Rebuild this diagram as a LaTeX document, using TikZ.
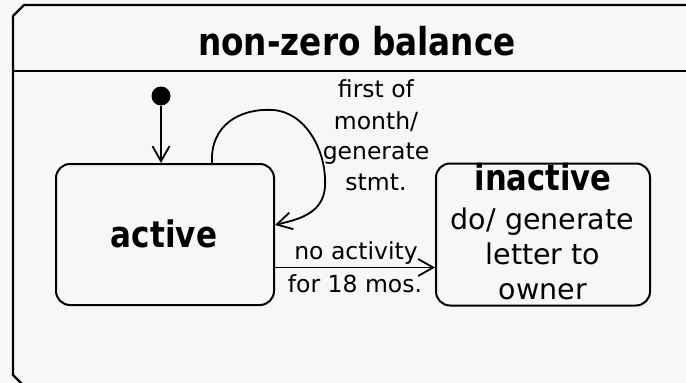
\documentclass[tikz,border=0pt]{standalone}
\usepackage{fontspec}
\setmainfont{DejaVu Sans}
\newfontfamily\headfont{DejaVu Sans}[FakeStretch=0.85]
\usetikzlibrary{arrows.meta}
\definecolor{paper}{HTML}{F7F7F7}
\begin{document}
\begin{tikzpicture}[x=1pt,y=-1pt,
  edge/.style={line width=1.8pt},
  arr/.style={edge,-{Straight Barb[length=15pt,width=17pt]}},
  statebox/.style={draw,line width=2pt,rounded corners=14pt,inner sep=0pt,fill=paper},
  boldtxt/.style={font=\headfont\bfseries\fontsize{36}{36}\selectfont,anchor=base,inner sep=0pt},
  bodytxt/.style={font=\fontsize{28.5}{28.5}\selectfont,anchor=base,inner sep=0pt},
  lbl/.style={font=\fontsize{23.5}{23.5}\selectfont,anchor=base,inner sep=0pt}]
\useasboundingbox (0,0) rectangle (686,383);
\fill[paper] (0,0) rectangle (686,383);
\clip (0,0) rectangle (686,383);

% composite state frame with its name compartment
\draw[line width=2.2pt] (700,5) -- (24,5) -- (13,16) -- (13,375) -- (24,386);
\draw[line width=2.2pt] (13,71) -- (700,71);
\node[boldtxt,font=\headfont\bfseries\fontsize{38.5}{38.5}\selectfont] (title) at (357,55) {non-zero balance};

% states
\node[statebox,minimum width=218pt,minimum height=141pt] (active) at (165,234.5) {};
\node[statebox,minimum width=214pt,minimum height=142pt] (inactive) at (543,234.5) {};

\node[boldtxt,font=\headfont\bfseries\fontsize{36.5}{36.5}\selectfont] (activename) at (164,247) {active};
\node[boldtxt] (inactivename) at (543,190) {inactive};
\node[bodytxt] (do1) at (542.5,229) {do/ generate};
\node[bodytxt] (do2) at (543,264) {letter to};
\node[bodytxt] (do3) at (543,299) {owner};

% initial pseudo-state
\node[circle,fill=black,inner sep=0pt,minimum width=17pt,minimum height=19pt] (init) at (161,96) {};
\draw[arr] (init.south) -- (init.south |- active.north);

% self transition on active
\coordinate (ls) at ([xshift=47pt]active.north);
\coordinate (le) at ([yshift=9.5pt]active.east);
\draw[arr] (ls) .. controls (210,125) and (240,108) .. (273,110)
  .. controls (305,112) and (327,150) .. (325,187)
  .. controls (323,215) and (295,220) .. (le);
\node[lbl] (l1) at (376,97) {first of};
\node[lbl] (l2) at (376,129) {month/};
\node[lbl] (l3) at (376,159) {generate};
\node[lbl] (l4) at (376,190) {stmt.};

% timeout transition
\draw[arr] ([yshift=-33pt]active.east) -- ([yshift=-33pt]inactive.west);
\node[lbl] (t1) at (356,259) {no activity};
\node[lbl] (t2) at (355,292) {for 18 mos.};
\end{tikzpicture}
\end{document}
